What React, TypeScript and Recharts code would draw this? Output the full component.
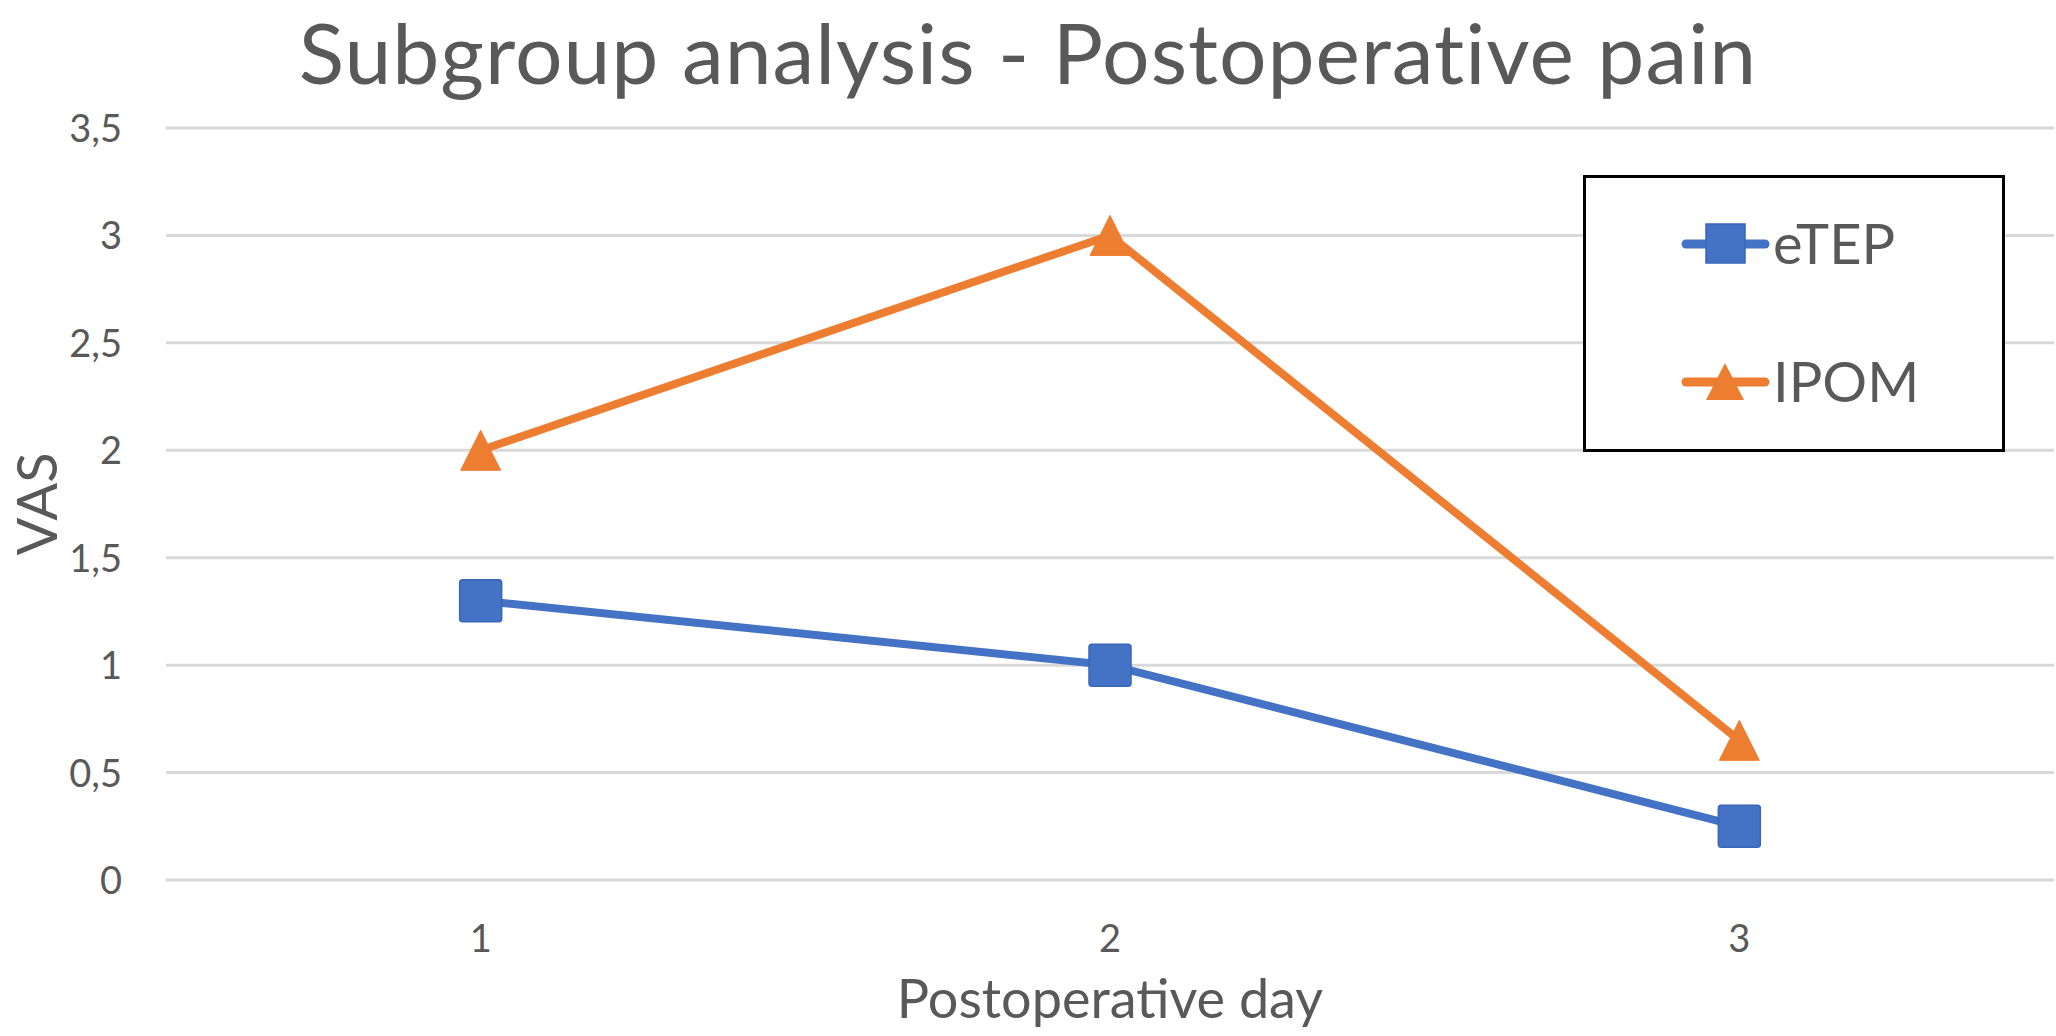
import React from 'react';
import { LineChart, Line, XAxis, YAxis, CartesianGrid, Legend } from 'recharts';

const days = ['1', '2', '3'];
const eTEPValues = [1.3, 1.0, 0.25];
const ipomValues = [2.0, 3.0, 0.65];
const yTicks = [0, 0.5, 1, 1.5, 2, 2.5, 3, 3.5];
const seriesOrder = ['eTEP', 'IPOM'];
const titleText = 'Subgroup analysis - Postoperative pain';
const xTitle = 'Postoperative day';
const yTitle = 'VAS';

const data = days.map((d, i) => ({ day: d, eTEP: eTEPValues[i], IPOM: ipomValues[i] }));

const FONT = 'Lato, "Open Sans", sans-serif';
const TXT = '#595959';
const BLUE = '#4472C4';
const ORANGE = '#ED7D31';

const SquareDot = (p: any) => {
  const { cx, cy, index } = p;
  if (cx == null || cy == null) return <g key={`sq-${index}`} />;
  return (
    <rect key={`sq-${index}`} x={cx - 21} y={cy - 21} width={42} height={42} rx={3}
      fill={BLUE} stroke="#3A66B8" strokeWidth={1.5} />
  );
};

const TriDot = (p: any) => {
  const { cx, cy, index } = p;
  if (cx == null || cy == null) return <g key={`tr-${index}`} />;
  return (
    <path key={`tr-${index}`} d={`M${cx},${cy - 20} L${cx + 20},${cy + 20} L${cx - 20},${cy + 20} Z`}
      fill={ORANGE} stroke={ORANGE} strokeWidth={1} strokeLinejoin="round" />
  );
};

const LegendBox = (props: any) => {
  const payload = [...(props.payload || [])].sort(
    (a: any, b: any) => seriesOrder.indexOf(a.dataKey) - seriesOrder.indexOf(b.dataKey)
  );
  const rows = [69, 207];
  return (
    <svg width={422} height={277} style={{ display: 'block' }}>
      <rect x={1.5} y={1.5} width={419} height={274} fill="#fff" stroke="#000" strokeWidth={3} />
      {payload.map((entry: any, i: number) => {
        const cy = rows[i];
        const color = entry.color;
        return (
          <g key={entry.value}>
            <line x1={103} x2={182} y1={cy} y2={cy} stroke={color} strokeWidth={9} strokeLinecap="round" />
            {entry.dataKey === 'eTEP' ? (
              <rect x={123} y={cy - 20} width={39} height={39} fill={BLUE} stroke="#3A66B8" strokeWidth={1.5} />
            ) : (
              <path d={`M142,${cy - 19} L161,${cy + 18} L123,${cy + 18} Z`} fill={ORANGE} />
            )}
            <text x={190} y={cy + 20} fontFamily={FONT} fontSize={56} fill={TXT}>{entry.value}</text>
          </g>
        );
      })}
    </svg>
  );
};

const XTick = (p: any) => (
  <text x={p.x} y={p.y + 72} textAnchor="middle" fontFamily={FONT} fontSize={38} fill={TXT}>
    {p.payload.value}
  </text>
);

const YTick = (p: any) => (
  <text x={p.x - 44} y={p.y + 14} textAnchor="end" fontFamily={FONT} fontSize={38} fill={TXT}>
    {String(p.payload.value).replace('.', ',')}
  </text>
);

export default function App() {
  return (
    <div style={{ position: 'absolute', left: 0, top: 0, width: 2056, height: 1036, background: '#fff' }}>
      <svg width={2056} height={120} style={{ position: 'absolute', left: 0, top: 0 }}>
        <text x={1028} y={84} textAnchor="middle" fontFamily={FONT} fontSize={84} letterSpacing={1}
          fill={TXT}>{titleText}</text>
      </svg>
      <div style={{ position: 'absolute', left: 0, top: 0 }}>
        <LineChart width={2056} height={1036} data={data} margin={{ top: 128, right: 2, left: 0, bottom: 0 }}>
          <CartesianGrid vertical={false} stroke="#D9D9D9" strokeWidth={3} />
          <XAxis dataKey="day" scale="band" type="category" height={156} axisLine={false} tickLine={false}
            tickSize={0} tickMargin={0} tick={<XTick />} interval={0}
            label={{
              content: () => (
                <text x={1110} y={1018} textAnchor="middle" fontFamily={FONT} fontSize={54} fill={TXT}>{xTitle}</text>
              ),
            }} />
          <YAxis domain={[0, 3.5]} ticks={yTicks} width={166} axisLine={false} tickLine={false}
            tickSize={0} tickMargin={0} tick={<YTick />} interval={0}
            label={{
              content: () => (
                <text x={57} y={504} transform="rotate(-90 57 504)" textAnchor="middle" fontFamily={FONT}
                  fontSize={56} fill={TXT}>{yTitle}</text>
              ),
            }} />
          <Legend layout="vertical" align="center" verticalAlign="middle" content={<LegendBox />}
            wrapperStyle={{ left: 1583, top: 175, width: 422, height: 277 }} />
          <Line dataKey="eTEP" name="eTEP" stroke={BLUE} strokeWidth={8} dot={SquareDot} activeDot={false}
            isAnimationActive={false} />
          <Line dataKey="IPOM" name="IPOM" stroke={ORANGE} strokeWidth={8} dot={TriDot} activeDot={false}
            isAnimationActive={false} />
        </LineChart>
      </div>
    </div>
  );
}
